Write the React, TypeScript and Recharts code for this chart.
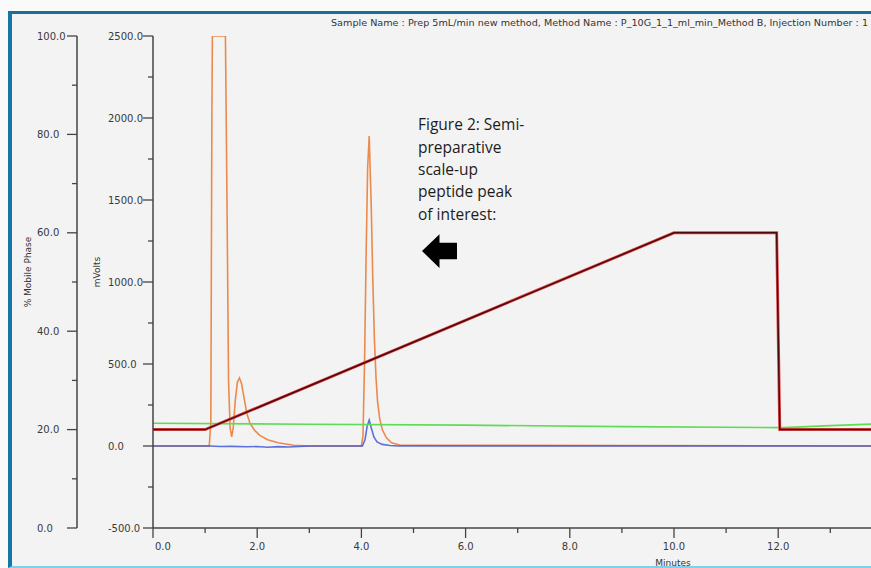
import { ComposedChart, Line, XAxis, YAxis } from "recharts";

// Detector trace 1 (orange), mVolts
const orangeMin = [0, 1.08, 1.11, 1.13, 1.14, 1.39, 1.4, 1.42, 1.45, 1.48, 1.51, 1.54, 1.58, 1.62, 1.66, 1.7, 1.75, 1.8, 1.86, 1.95, 2.05, 2.2, 2.4, 2.7, 3.0, 4.0, 4.03, 4.06, 4.09, 4.12, 4.15, 4.19, 4.22, 4.25, 4.28, 4.31, 4.35, 4.4, 4.48, 4.58, 4.75, 14];
const orangeMv = [0, 0, 150, 2000, 2500, 2500, 2180, 1500, 400, 110, 55, 110, 280, 390, 415, 380, 290, 200, 140, 95, 65, 38, 20, 5, 0, 0, 60, 500, 1150, 1700, 1890, 1450, 1000, 650, 420, 270, 170, 100, 50, 20, 5, 0];

// Detector trace 2 (blue), mVolts
const blueMin = [0, 1.1, 1.3, 1.5, 1.8, 2.0, 2.2, 2.4, 2.6, 3.0, 4.02, 4.07, 4.11, 4.15, 4.19, 4.24, 4.3, 4.4, 4.55, 4.7, 14];
const blueMv = [0, 0, -3, -2, -5, -3, -8, -4, -6, 0, 0, 40, 120, 158, 110, 55, 25, 10, 3, 0, 0];

// Green trace, % mobile phase scale
const greenMin = [0, 3, 6, 9, 12, 12.1, 13, 14];
const greenPct = [21.3, 21.1, 20.9, 20.6, 20.4, 20.4, 20.8, 21.2];

// Gradient program (%B)
const gradMin = [0, 1, 10, 11.97, 12.03, 14];
const gradPct = [20, 20, 60, 60, 20, 20];

const minuteTicks = [0, 1, 2, 3, 4, 5, 6, 7, 8, 9, 10, 11, 12, 13];
const pctTicks = [0, 10, 20, 30, 40, 50, 60, 70, 80, 90, 100];
const mvTicks = [-500, -250, 0, 250, 500, 750, 1000, 1250, 1500, 1750, 2000, 2250, 2500];

const rows = (t: number[], v: number[]) => t.map((x, i) => ({ t: x, v: v[i] }));

const FONT = "DejaVu Sans";
const AX = "#444";

const makeYTick = (isMajor: (v: number) => boolean, labelOffset: number) => (props: any) => {
  const { x, y, payload } = props;
  const m = isMajor(payload.value);
  return (
    <g>
      <line x1={x - (m ? 10 : 5)} x2={x} y1={y} y2={y} stroke={AX} strokeWidth={1.3} />
      {m && (
        <text x={x - labelOffset} y={y} dy="0.35em" textAnchor="start" fontFamily={FONT} fontSize={10} fill="#3a3a3a">
          {payload.value.toFixed(1)}
        </text>
      )}
    </g>
  );
};

const XTick = (props: any) => {
  const { x, y, payload } = props;
  const m = payload.value % 2 === 0;
  return (
    <g>
      <line x1={x} x2={x} y1={y} y2={y + (m ? 10 : 5)} stroke={AX} strokeWidth={1.3} />
      {m && (
        <text x={payload.value === 0 ? x + 2 : x} y={y + 22} textAnchor={payload.value === 0 ? "start" : "middle"} fontFamily={FONT} fontSize={10} fill="#3a3a3a">
          {payload.value.toFixed(1)}
        </text>
      )}
    </g>
  );
};

const PctTick = makeYTick((v) => v % 20 === 0, 40);
const MvTick = makeYTick((v) => v % 500 === 0, 45);

export default function App() {
  return (
    <div style={{ position: "absolute", left: 0, top: 0, width: 871, height: 568, overflow: "hidden", background: "#fafafa" }}>
      {/* window frame */}
      <div
        style={{
          position: "absolute", left: 8, top: 11, width: 900, height: 557, boxSizing: "border-box",
          borderLeft: "4px solid #1577a6", borderTop: "3px solid #1a6f98", borderBottom: "2px solid #7fd0ea",
          background: "#f3f3f3",
        }}
      />
      <div style={{ position: "absolute", left: 0, top: 0 }}>
        <ComposedChart width={900} height={568} margin={{ top: 36, right: 17.6, bottom: 0, left: 1 }}>
          <XAxis
            xAxisId="t" dataKey="t" type="number" domain={[0, 14]} ticks={minuteTicks} interval={0}
            height={40} tickSize={0} tickMargin={0} tickLine={false} tick={<XTick />}
            axisLine={{ stroke: AX, strokeWidth: 1.5 }} allowDataOverflow
          />
          <YAxis
            yAxisId="pct" type="number" domain={[0, 100]} ticks={pctTicks} interval={0} width={76}
            tickSize={0} tickMargin={0} tickLine={false} tick={<PctTick />}
            axisLine={{ stroke: AX, strokeWidth: 1.5 }} allowDataOverflow
          />
          <YAxis
            yAxisId="mv" type="number" domain={[-500, 2500]} ticks={mvTicks} interval={0} width={76}
            tickSize={0} tickMargin={0} tickLine={false} tick={<MvTick />}
            axisLine={{ stroke: AX, strokeWidth: 1.5 }} allowDataOverflow
          />
          <Line data={rows(orangeMin, orangeMv)} xAxisId="t" yAxisId="mv" dataKey="v" type="linear" stroke="#ec8a4c" strokeWidth={1.6} dot={false} isAnimationActive={false} />
          <Line data={rows(blueMin, blueMv)} xAxisId="t" yAxisId="mv" dataKey="v" type="linear" stroke="#2a45d4" strokeOpacity={0.75} strokeWidth={1.6} dot={false} isAnimationActive={false} />
          <Line data={rows(greenMin, greenPct)} xAxisId="t" yAxisId="pct" dataKey="v" type="linear" stroke="#5fdc55" strokeWidth={1.6} dot={false} isAnimationActive={false} />
          <Line data={rows(gradMin, gradPct)} xAxisId="t" yAxisId="pct" dataKey="v" type="linear" stroke="#e04848" strokeWidth={3} dot={false} isAnimationActive={false} />
          <Line data={rows(gradMin, gradPct)} xAxisId="t" yAxisId="pct" dataKey="v" type="linear" stroke="#4e080c" strokeWidth={1.5} dot={false} isAnimationActive={false} />
        </ComposedChart>
      </div>
      <svg width={871} height={568} style={{ position: "absolute", left: 0, top: 0, pointerEvents: "none" }}>
        <text x={868} y={26} textAnchor="end" fontFamily={FONT} fontSize={9.5} fill="#333" textLength={537} lengthAdjust="spacingAndGlyphs">
          Sample Name : Prep 5mL/min new method, Method Name : P_10G_1_1_ml_min_Method B, Injection Number : 1
        </text>
        <text transform="translate(31,272) rotate(-90)" textAnchor="middle" fontFamily={FONT} fontSize={9} fill="#333">% Mobile Phase</text>
        <text transform="translate(100,272) rotate(-90)" textAnchor="middle" fontFamily={FONT} fontSize={9} fill="#333">mVolts</text>
        <text x={673} y={566} textAnchor="middle" fontFamily={FONT} fontSize={9} fill="#333">Minutes</text>
        <g fontFamily="Open Sans" fontSize={15.5} fill="#1c1c1c">
          <text x={418} y={130}>Figure 2: Semi-</text>
          <text x={418} y={152.5}>preparative</text>
          <text x={418} y={175}>scale-up</text>
          <text x={418} y={197}>peptide peak</text>
          <text x={418} y={220}>of interest:</text>
        </g>
        <polygon points="422,251 439.5,234.3 439.5,242.7 457,242.7 457,259.3 439.5,259.3 439.5,268" fill="#000" />
      </svg>
    </div>
  );
}
